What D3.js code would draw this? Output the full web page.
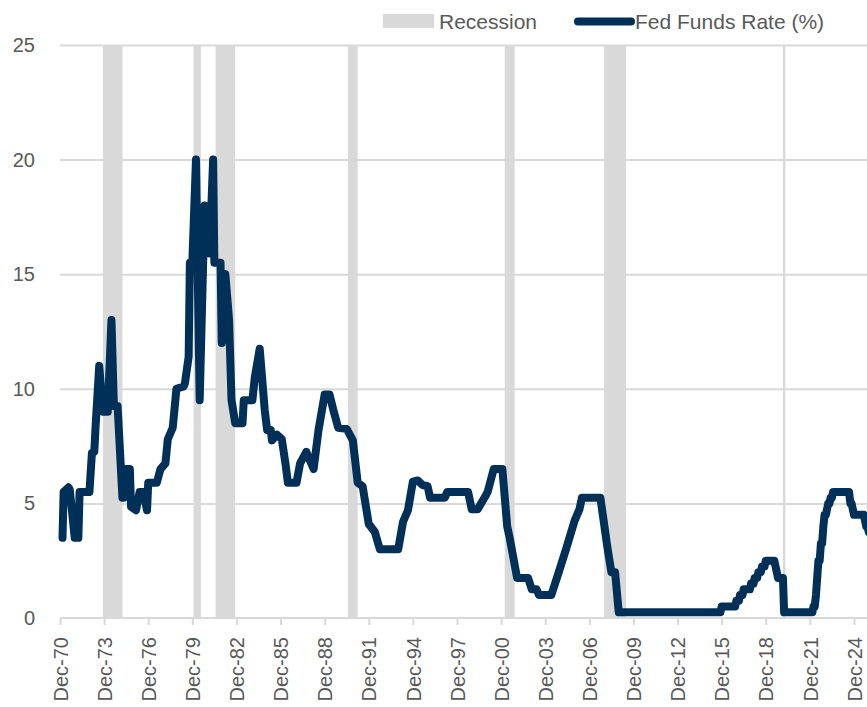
<!DOCTYPE html>
<html>
<head>
<meta charset="utf-8">
<script src="https://cdnjs.cloudflare.com/ajax/libs/d3/7.8.5/d3.min.js"></script>
<style>
    html, body { margin: 0; padding: 0; background: #fff; }
    #chart { width: 867px; height: 707px; overflow: hidden; }
    text { font-family: "Liberation Sans", Arial, sans-serif; fill: #595959; }
</style>
</head>
<body>
<div id="chart"></div>
<script>
//Datos: tipo objetivo de la Fed (mes, valor en %)
const months = ['1971-02','1971-03','1971-07','1971-08','1971-12','1972-03','1972-04','1972-12',
    '1973-02','1973-04','1973-05','1973-08','1973-11','1974-03','1974-06','1974-08','1974-11',
    '1975-03','1975-04','1975-06','1975-09','1975-10','1976-02','1976-05','1976-08','1976-11','1976-12',
    '1977-07','1977-10','1978-02','1978-04','1978-08','1978-11','1979-05','1979-06','1979-09','1979-10','1979-12',
    '1980-03','1980-06','1980-10','1981-02','1981-05','1981-06','1981-11','1981-12','1982-03','1982-06','1982-08','1982-11',
    '1983-05','1983-06','1984-01','1984-03','1984-07','1984-11','1985-01','1985-04','1985-05','1985-09',
    '1986-01','1986-04','1986-06','1987-01','1987-04','1987-09','1988-03','1988-07','1988-12',
    '1989-04','1989-07','1989-11','1990-06','1990-11','1991-03','1991-07','1991-12','1992-05','1992-09',
    '1993-12','1994-04','1994-08','1994-12','1995-04','1995-08','1995-12','1996-02','1997-02','1997-04',
    '1998-09','1998-12','1999-05','1999-11','2000-01','2000-06','2001-01','2001-05','2001-07',
    '2002-01','2002-10','2003-01','2003-05','2003-07','2004-05','2004-11','2005-05','2005-12',
    '2006-04','2006-06','2007-09','2007-11','2008-03','2008-06','2008-09','2008-12',
    '2015-11','2015-12','2016-11','2016-12','2017-02','2017-03','2017-05','2017-06','2017-11','2017-12',
    '2018-02','2018-03','2018-05','2018-06','2018-08','2018-09','2018-11','2018-12',
    '2019-07','2019-08','2019-09','2019-10','2020-02','2020-03',
    '2022-02','2022-03','2022-04','2022-05','2022-06','2022-07','2022-08','2022-09','2022-10','2022-11','2022-12',
    '2023-01','2023-02','2023-03','2023-04','2023-05','2023-06','2023-07',
    '2024-08','2024-09','2024-10','2024-11','2024-12','2025-08','2025-09','2025-10','2025-11','2025-12'];

const rates = [3.5,5.5,5.7,5.6,3.5,3.5,5.5,5.5,
    7.2,7.25,8.3,11.0,9.0,9.0,13.0,9.25,9.25,
    5.25,5.25,6.5,6.5,4.85,4.7,5.5,5.5,4.7,5.9,
    5.9,6.5,6.75,7.8,8.3,10.0,10.1,10.25,11.4,15.5,15.5,
    20.0,9.5,18.0,15.9,20.0,15.5,15.5,12.0,15.0,13.0,9.5,8.5,
    8.5,9.5,9.5,10.5,11.75,9.1,8.2,8.2,7.75,8.0,
    7.8,6.75,5.9,5.9,6.75,7.25,6.5,8.2,9.75,
    9.75,9.1,8.3,8.25,7.75,5.9,5.75,4.1,3.75,3.0,
    3.0,4.2,4.7,5.95,6.0,5.8,5.75,5.25,5.25,5.5,
    5.5,4.75,4.75,5.3,5.5,6.5,6.5,4.0,3.5,
    1.75,1.75,1.25,1.25,1.0,1.0,2.0,3.0,4.25,
    4.75,5.25,5.25,4.5,3.0,2.0,2.0,0.25,
    0.25,0.5,0.5,0.75,0.75,1.0,1.0,1.25,1.25,1.5,
    1.5,1.75,1.75,2.0,2.0,2.25,2.25,2.5,
    2.5,2.25,2.0,1.75,1.75,0.25,
    0.25,0.5,0.5,1.0,1.75,2.5,2.5,3.25,3.25,4.0,4.5,
    4.5,4.75,5.0,5.0,5.25,5.25,5.5,
    5.5,5.0,5.0,4.75,4.5,4.5,4.25,4.0,4.0,3.75];

//Recesiones (inicio, fin)
const recessionStart = ['1973-11','1980-01','1981-07','1990-07','2001-03','2007-12','2020-02'];
const recessionEnd = ['1975-03','1980-07','1982-11','1991-03','2001-11','2009-06','2020-04'];

//Ejes
const yTicks = [0, 5, 10, 15, 20, 25];
const xTickYears = d3.range(1970, 2025, 3);

//Colores fijos
const COLOR_LINE = '#003057',
COLOR_GREY = '#D9D9D9';

let parseMonth = d3.timeParse('%Y-%m');

let data = months.map(function(m, i) { return { date: parseMonth(m), value: rates[i] }; });

let margin = {top: 45, right: 0, bottom: 89, left: 60},
    fullWidth = 867, fullHeight = 707,
    height = fullHeight - margin.top - margin.bottom;

let svg = d3.select('#chart')
    .append('svg')
      .attr('width', fullWidth)
      .attr('height', fullHeight)
    .append('g')
      .attr('transform', 'translate(' + margin.left + ',' + margin.top + ')');

//Escala X: Dec-70 a Dec-24 (el último tramo se corta en el borde)
let x = d3.scaleTime()
    .domain([new Date(1970, 11, 1), new Date(2024, 11, 1)])
    .range([0, 794]);

let plotRight = fullWidth - margin.left;

let y = d3.scaleLinear()
    .domain([0, 25])
    .range([height, 0]);

//Rejilla horizontal + etiquetas Y
let yAxis = function(g) {
    g.call(d3.axisLeft(y).tickValues(yTicks).tickSize(-plotRight).tickPadding(25));
    g.select('.domain').remove();
    g.selectAll('.tick line')
        .attr('stroke', COLOR_GREY)
        .attr('stroke-width', 2)
        .attr('display', function(d) { return d == 0 ? 'none' : null; });
    g.selectAll('.tick text')
        .style('font-size', '20px')
        .attr('fill', '#595959');
}

svg.append('g')
    .attr('class', 'yaxis')
    .call(yAxis);

//Barras de recesión
svg.append('g')
    .selectAll('rect')
    .data(recessionStart)
    .enter()
    .append('rect')
    .attr('x', function(d) { return x(parseMonth(d)); })
    .attr('y', y(25))
    .attr('width', function(d, i) { return x(parseMonth(recessionEnd[i])) - x(parseMonth(d)); })
    .attr('height', y(0) - y(25))
    .attr('fill', COLOR_GREY);

//Eje X
let xAxis = function(g) {
    g.call(d3.axisBottom(x)
        .tickValues(xTickYears.map(function(yr) { return new Date(yr, 11, 1); }))
        .tickFormat(d3.timeFormat('%b-%y'))
        .tickSize(7)
        .tickSizeOuter(0));
    g.select('.domain')
        .attr('d', 'M0,0H' + plotRight)
        .attr('stroke', COLOR_GREY)
        .attr('stroke-width', 2);
    g.selectAll('.tick line')
        .attr('stroke', COLOR_GREY)
        .attr('stroke-width', 2);
    g.selectAll('.tick text')
        .style('font-size', '20px')
        .attr('fill', '#595959')
        .attr('text-anchor', 'end')
        .attr('transform', 'rotate(-90)')
        .attr('x', -19)
        .attr('y', 0)
        .attr('dy', '0.36em');
}

svg.append('g')
    .attr('transform', 'translate(0,' + height + ')')
    .call(xAxis);

//Línea
let line = d3.line()
    .x(function(d) { return x(d.date); })
    .y(function(d) { return y(d.value); });

svg.append('path')
    .datum(data)
    .attr('fill', 'none')
    .attr('stroke', COLOR_LINE)
    .attr('stroke-width', 8)
    .attr('stroke-linejoin', 'round')
    .attr('stroke-linecap', 'round')
    .attr('d', line);

//Leyenda
let legend = d3.select('#chart svg').append('g');

legend.append('rect')
    .attr('x', 383)
    .attr('y', 14)
    .attr('width', 51)
    .attr('height', 14)
    .attr('fill', COLOR_GREY);

legend.append('text')
    .attr('x', 439)
    .attr('y', 29)
    .style('font-size', '21px')
    .text('Recession');

legend.append('line')
    .attr('x1', 578)
    .attr('x2', 631)
    .attr('y1', 21.5)
    .attr('y2', 21.5)
    .attr('stroke', COLOR_LINE)
    .attr('stroke-width', 8)
    .attr('stroke-linecap', 'round');

legend.append('text')
    .attr('x', 635)
    .attr('y', 29)
    .style('font-size', '21px')
    .text('Fed Funds Rate (%)');
</script>
</body>
</html>
